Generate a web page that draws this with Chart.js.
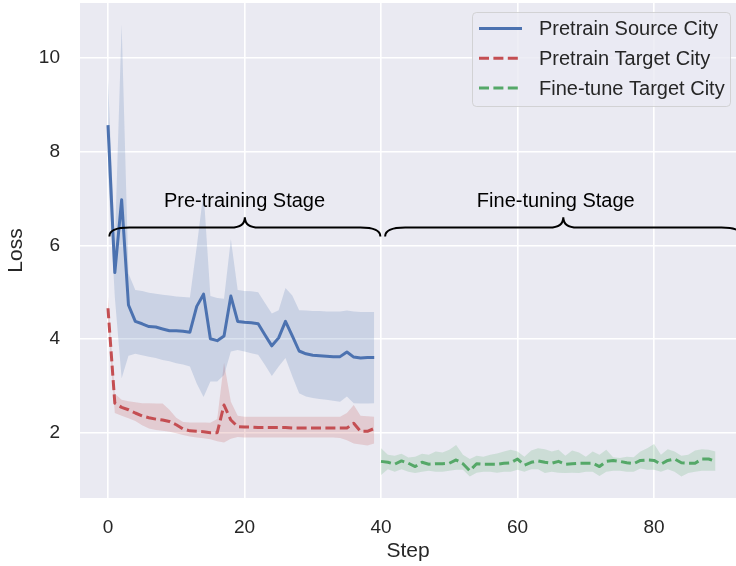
<!DOCTYPE html>
<html>
<head>
<meta charset="utf-8">
<script src="https://cdn.jsdelivr.net/npm/chart.js@4.4.0/dist/chart.umd.min.js"></script>
<style>
  body { margin: 0; background: #fff; }
</style>
</head>
<body>
<canvas id="loss_chart" width="736" height="566"></canvas>
<script>
// steps (x categories)
const preSteps = Array.from({length: 40}, (_, i) => i);
const fineSteps = Array.from({length: 50}, (_, i) => i + 40);

const sourceMean = [8.56, 5.42, 6.97, 4.73, 4.38, 4.33, 4.27, 4.26, 4.22, 4.18,
                    4.18, 4.17, 4.15, 4.70, 4.96, 4.01, 3.97, 4.07, 4.92, 4.38,
                    4.36, 4.35, 4.33, 4.09, 3.86, 4.03, 4.38, 4.07, 3.75, 3.69,
                    3.66, 3.65, 3.64, 3.63, 3.63, 3.73, 3.62, 3.60, 3.61, 3.61];
const sourceHi = [9.56, 6.00, 10.71, 5.40, 5.05, 5.03, 4.99, 4.97, 4.95, 4.93,
                  4.91, 4.90, 4.89, 5.97, 7.14, 4.92, 4.88, 4.86, 6.13, 5.05,
                  5.03, 5.02, 5.00, 4.77, 4.55, 4.62, 5.09, 4.93, 4.62, 4.61,
                  4.60, 4.60, 4.59, 4.59, 4.59, 4.61, 4.59, 4.58, 4.58, 4.58];
const sourceLo = [7.55, 4.90, 3.17, 3.65, 3.69, 3.66, 3.63, 3.60, 3.56, 3.53,
                  3.49, 3.46, 3.42, 3.06, 2.77, 3.10, 3.10, 3.24, 3.74, 3.77,
                  3.74, 3.70, 3.67, 3.45, 3.22, 3.42, 3.60, 3.21, 2.85, 2.78,
                  2.75, 2.73, 2.71, 2.69, 2.67, 2.78, 2.64, 2.63, 2.63, 2.64];

const targetMean = [4.66, 2.64, 2.55, 2.50, 2.43, 2.37, 2.33, 2.30, 2.28, 2.25,
                    2.18, 2.09, 2.05, 2.04, 2.03, 2.01, 2.01, 2.60, 2.28, 2.14,
                    2.13, 2.13, 2.12, 2.12, 2.12, 2.12, 2.12, 2.11, 2.11, 2.11,
                    2.11, 2.11, 2.11, 2.11, 2.11, 2.11, 2.21, 2.04, 2.04, 2.10];
const targetHi = [4.91, 2.84, 2.71, 2.68, 2.66, 2.64, 2.64, 2.63, 2.63, 2.50,
                  2.33, 2.24, 2.23, 2.23, 2.23, 2.22, 2.30, 3.50, 2.67, 2.37,
                  2.35, 2.35, 2.35, 2.35, 2.35, 2.35, 2.35, 2.35, 2.35, 2.35,
                  2.35, 2.35, 2.35, 2.35, 2.35, 2.43, 2.60, 2.37, 2.36, 2.35];
const targetLo = [4.35, 2.43, 2.37, 2.32, 2.26, 2.17, 2.10, 2.07, 2.05, 2.03,
                  2.00, 1.96, 1.93, 1.91, 1.89, 1.87, 1.83, 1.80, 1.88, 1.92,
                  1.91, 1.91, 1.91, 1.91, 1.91, 1.91, 1.91, 1.91, 1.91, 1.91,
                  1.91, 1.91, 1.91, 1.91, 1.90, 1.85, 1.78, 1.76, 1.74, 1.78];

const fineMean = [1.40, 1.38, 1.34, 1.41, 1.36, 1.29, 1.38, 1.34, 1.35, 1.35,
                  1.36, 1.43, 1.35, 1.20, 1.35, 1.34, 1.34, 1.34, 1.36, 1.37,
                  1.45, 1.32, 1.38, 1.41, 1.38, 1.36, 1.40, 1.34, 1.35, 1.36,
                  1.36, 1.36, 1.29, 1.40, 1.42, 1.40, 1.37, 1.35, 1.42, 1.43,
                  1.42, 1.34, 1.42, 1.45, 1.37, 1.36, 1.36, 1.45, 1.45, 1.40];
const fineHi = [1.68, 1.54, 1.52, 1.56, 1.48, 1.50, 1.56, 1.54, 1.61, 1.59,
                1.65, 1.75, 1.54, 1.45, 1.52, 1.50, 1.54, 1.57, 1.61, 1.65,
                1.61, 1.50, 1.63, 1.68, 1.66, 1.61, 1.65, 1.52, 1.63, 1.59,
                1.50, 1.61, 1.54, 1.65, 1.49, 1.47, 1.50, 1.49, 1.61, 1.68,
                1.77, 1.54, 1.66, 1.61, 1.52, 1.54, 1.63, 1.66, 1.65, 1.61];
const fineLo = [1.11, 1.23, 1.18, 1.23, 1.18, 1.15, 1.18, 1.20, 1.18, 1.18,
                1.20, 1.22, 1.22, 1.08, 1.16, 1.18, 1.18, 1.16, 1.18, 1.18,
                1.22, 1.18, 1.23, 1.23, 1.15, 1.18, 1.16, 1.15, 1.16, 1.15,
                1.18, 1.18, 1.09, 1.18, 1.20, 1.20, 1.18, 1.18, 1.25, 1.22,
                1.22, 1.18, 1.23, 1.18, 1.08, 1.15, 1.18, 1.20, 1.20, 1.20];

const xTicks = [0, 20, 40, 60, 80];
const yTicks = [2, 4, 6, 8, 10];
const seriesNames = ['Pretrain Source City', 'Pretrain Target City', 'Fine-tune Target City'];
const stageNames = ['Pre-training Stage', 'Fine-tuning Stage'];

const FONT = "'Liberation Sans', Arial, sans-serif";
const TXT = '#262626';
const colors = ['#4C72B0', '#C44E52', '#55A868'];
const bands = ['rgba(76,114,176,0.2)', 'rgba(196,78,82,0.2)', 'rgba(85,168,104,0.2)'];
const dash = [10, 4.4];

function pts(xs, ys) {
    return xs.map((x, i) => ({x: x, y: ys[i]}));
}

function meanLine(label, data, color, borderDash) {
    return {
        label: label, data: data, borderColor: color, borderWidth: 3,
        borderDash: borderDash, borderJoinStyle: 'round',
        pointRadius: 0, tension: 0, fill: false, order: 0
    };
}
function bandEdge(data, fill, bg) {
    return {
        label: '', data: data, borderWidth: 0, borderColor: 'transparent',
        backgroundColor: bg, pointRadius: 0, tension: 0, fill: fill, order: 1
    };
}

const plotBg = {
    id: 'plotBg',
    beforeDraw(chart) {
        const {ctx, chartArea: a} = chart;
        ctx.save();
        ctx.fillStyle = '#EAEAF2';
        ctx.fillRect(a.left, a.top, a.right - a.left, a.bottom - a.top);
        ctx.restore();
    }
};

// curly braces + stage labels
function brace(ctx, x0, x1, xt, yEnd, yFlat, yTip) {
    const r = 20, rt = 14;
    ctx.beginPath();
    ctx.moveTo(x0, yEnd);
    ctx.quadraticCurveTo(x0, yFlat, x0 + r, yFlat);
    ctx.lineTo(xt - rt, yFlat);
    ctx.quadraticCurveTo(xt, yFlat, xt, yTip);
    ctx.quadraticCurveTo(xt, yFlat, xt + rt, yFlat);
    ctx.lineTo(x1 - r, yFlat);
    ctx.quadraticCurveTo(x1, yFlat, x1, yEnd);
    ctx.stroke();
}
const stages = {
    id: 'stages',
    afterDatasetsDraw(chart) {
        const {ctx, scales: {x, y}} = chart;
        const yEnd = y.getPixelForValue(6.19), yFlat = y.getPixelForValue(6.38);
        const yTip = y.getPixelForValue(6.60), yText = y.getPixelForValue(6.93);
        ctx.save();
        ctx.strokeStyle = '#000';
        ctx.lineWidth = 2;
        brace(ctx, x.getPixelForValue(0.2), x.getPixelForValue(39.9), x.getPixelForValue(20.05), yEnd, yFlat, yTip);
        brace(ctx, x.getPixelForValue(40.6), x.getPixelForValue(92.8), x.getPixelForValue(66.7), yEnd, yFlat, yTip);
        ctx.fillStyle = '#000';
        ctx.font = '20px ' + FONT;
        ctx.textAlign = 'center';
        ctx.textBaseline = 'middle';
        ctx.fillText(stageNames[0], x.getPixelForValue(20), yText);
        ctx.fillText(stageNames[1], x.getPixelForValue(65.6), yText);
        ctx.restore();
    }
};

const legendBox = {
    id: 'legendBox',
    afterDraw(chart) {
        const ctx = chart.ctx;
        ctx.save();
        ctx.beginPath();
        ctx.roundRect(472.5, 12.5, 258, 94, 4);
        ctx.fillStyle = 'rgba(234,234,242,0.8)';
        ctx.fill();
        ctx.strokeStyle = 'rgba(204,204,204,0.8)';
        ctx.lineWidth = 1;
        ctx.stroke();
        ctx.font = '20px ' + FONT;
        ctx.textBaseline = 'middle';
        ctx.textAlign = 'left';
        const rows = [28.5, 58.3, 88];
        seriesNames.forEach((name, i) => {
            ctx.beginPath();
            ctx.setLineDash(i === 0 ? [] : dash);
            ctx.strokeStyle = colors[i];
            ctx.lineWidth = 3;
            ctx.moveTo(479, rows[i]);
            ctx.lineTo(522, rows[i]);
            ctx.stroke();
            ctx.fillStyle = TXT;
            ctx.fillText(name, 539, rows[i] + 1);
        });
        ctx.restore();
    }
};

const ctxl = document.getElementById('loss_chart').getContext('2d');
const chartl = new Chart(ctxl, {
    type: 'line',
    data: {
        datasets: [
            meanLine(seriesNames[0], pts(preSteps, sourceMean), colors[0], []),
            meanLine(seriesNames[1], pts(preSteps, targetMean), colors[1], dash),
            meanLine(seriesNames[2], pts(fineSteps, fineMean), colors[2], dash),
            bandEdge(pts(preSteps, sourceLo), false, bands[0]),
            bandEdge(pts(preSteps, sourceHi), '-1', bands[0]),
            bandEdge(pts(preSteps, targetLo), false, bands[1]),
            bandEdge(pts(preSteps, targetHi), '-1', bands[1]),
            bandEdge(pts(fineSteps, fineLo), false, bands[2]),
            bandEdge(pts(fineSteps, fineHi), '-1', bands[2])
        ]
    },
    options: {
        responsive: false,
        animation: false,
        devicePixelRatio: 1,
        events: [],
        layout: { padding: { top: 3, right: 0, bottom: 0, left: 0 } },
        plugins: { legend: { display: false }, tooltip: { enabled: false } },
        scales: {
            x: {
                type: 'linear', min: -4.1, max: 92,
                afterBuildTicks: s => { s.ticks = xTicks.map(v => ({value: v})); },
                afterFit: s => { s.height = 68; s.paddingLeft = 0; s.paddingRight = 0; },
                grid: { color: '#fff', lineWidth: 1.6, drawTicks: false },
                border: { display: false },
                ticks: { padding: 18, color: TXT, font: { family: FONT, size: 19 } },
                title: { display: true, text: 'Step', color: TXT, font: { family: FONT, size: 21 },
                         padding: { top: 0, bottom: 2 } }
            },
            y: {
                type: 'linear', min: 0.62, max: 11.16,
                afterBuildTicks: s => { s.ticks = yTicks.map(v => ({value: v})); },
                afterFit: s => { s.width = 80; s.paddingTop = 0; s.paddingBottom = 0; },
                grid: { color: '#fff', lineWidth: 1.6, drawTicks: false },
                border: { display: false },
                ticks: { padding: 20, color: TXT, font: { family: FONT, size: 19 } },
                title: { display: true, text: 'Loss', color: TXT, font: { family: FONT, size: 21 },
                         padding: { top: 4, bottom: 0 } }
            }
        }
    },
    plugins: [plotBg, stages, legendBox]
});
</script>
</body>
</html>
